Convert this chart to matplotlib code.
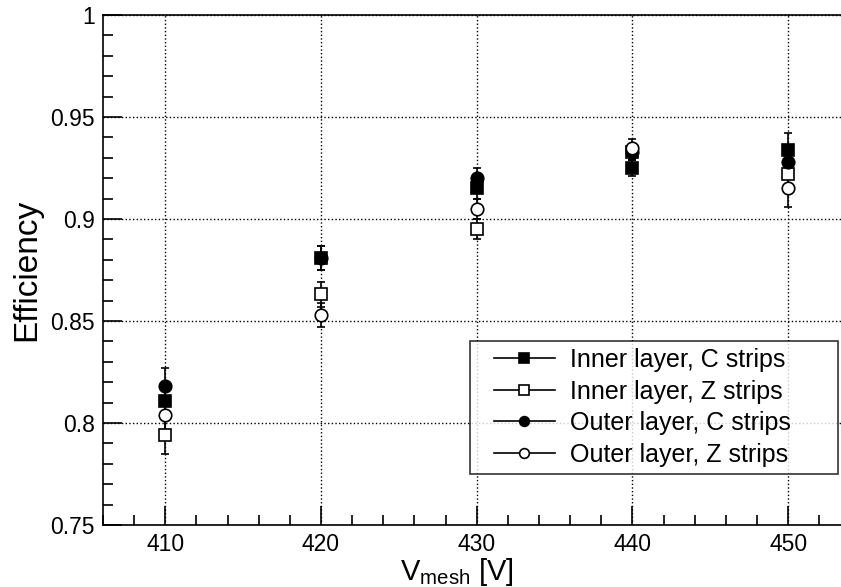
import matplotlib.pyplot as plt
from matplotlib.ticker import MultipleLocator, FixedLocator
from matplotlib.lines import Line2D
from matplotlib.legend_handler import HandlerLine2D

plt.rcParams['font.family'] = ['Liberation Sans', 'DejaVu Sans']

# Data
v_mesh = [410, 420, 430, 440, 450]

inner_c = [0.811, 0.881, 0.915, 0.925, 0.934]
inner_c_err = [0.008, 0.006, 0.005, 0.004, 0.008]
inner_z = [0.794, 0.863, 0.895, 0.933, 0.922]
inner_z_err = [0.009, 0.006, 0.005, 0.004, 0.008]
outer_c = [0.818, 0.881, 0.920, 0.933, 0.928]
outer_c_err = [0.009, 0.006, 0.005, 0.004, 0.008]
outer_z = [0.804, 0.853, 0.905, 0.935, 0.915]
outer_z_err = [0.009, 0.006, 0.005, 0.004, 0.009]

labels = ['Inner layer, C strips', 'Inner layer, Z strips',
          'Outer layer, C strips', 'Outer layer, Z strips']

fig = plt.figure(figsize=(8.41, 5.87), dpi=100)
ax = fig.add_axes([0.1225, 0.1056, 0.8775, 0.8688])

series = [
    (inner_c, inner_c_err, 's', 'black'),
    (inner_z, inner_z_err, 's', 'white'),
    (outer_c, outer_c_err, 'o', 'black'),
    (outer_z, outer_z_err, 'o', 'white'),
]
handles = []
for (vals, errs, mk, fc), lab in zip(series, labels):
    ax.errorbar(v_mesh, vals, yerr=errs, fmt=mk, color='black', mfc=fc,
                mec='black', ms=9, mew=1.2, elinewidth=1.2, capsize=3,
                capthick=1.2, zorder=3)
    handles.append(Line2D([], [], color='black', lw=1.2, marker=mk, mfc=fc,
                          mec='black', ms=7, mew=1.2, label=lab))

ax.set_xlim(406.0, 453.4)
ax.set_ylim(0.75, 1.0)

ax.xaxis.set_major_locator(FixedLocator([410, 420, 430, 440, 450]))
ax.xaxis.set_minor_locator(MultipleLocator(2))
ax.yaxis.set_minor_locator(MultipleLocator(0.01))
ax.set_yticks([0.75, 0.8, 0.85, 0.9, 0.95, 1.0])
ax.set_yticklabels(['0.75', '0.8', '0.85', '0.9', '0.95', '1'])

ax.tick_params(which='both', direction='in', top=False, right=False,
               labelsize=16.5, width=1.2, color='black')
ax.tick_params(which='major', length=14)
ax.tick_params(axis='x', which='major', pad=6)
ax.tick_params(axis='y', which='major', pad=6)
ax.tick_params(which='minor', length=7)

ax.grid(True, which='major', linestyle=':', color='black', linewidth=1)
ax.spines['right'].set_visible(False)
for s in ['left', 'bottom', 'top']:
    ax.spines[s].set_linewidth(1.2)

ax.set_ylabel('Efficiency', fontsize=24)
ax.yaxis.set_label_coords(-0.083, 0.5)
ax.set_xlabel(r'V$_{\mathregular{mesh}}$ [V]', fontsize=21)
ax.xaxis.set_label_coords(0.48, -0.06)

leg = ax.legend(handles=handles, loc='lower left',
                bbox_to_anchor=(0.497, 0.1, 0.4986, 0.26), mode='expand',
                fontsize=18, frameon=True, fancybox=False, edgecolor='black',
                handlelength=3.1, borderpad=0.3, labelspacing=0.3,
                handletextpad=0.6, borderaxespad=0,
                handler_map={Line2D: HandlerLine2D(xpad=0.65)})
leg.get_frame().set_linewidth(1.2)
leg.set_zorder(5)

fig.savefig('out.png', dpi=100)
